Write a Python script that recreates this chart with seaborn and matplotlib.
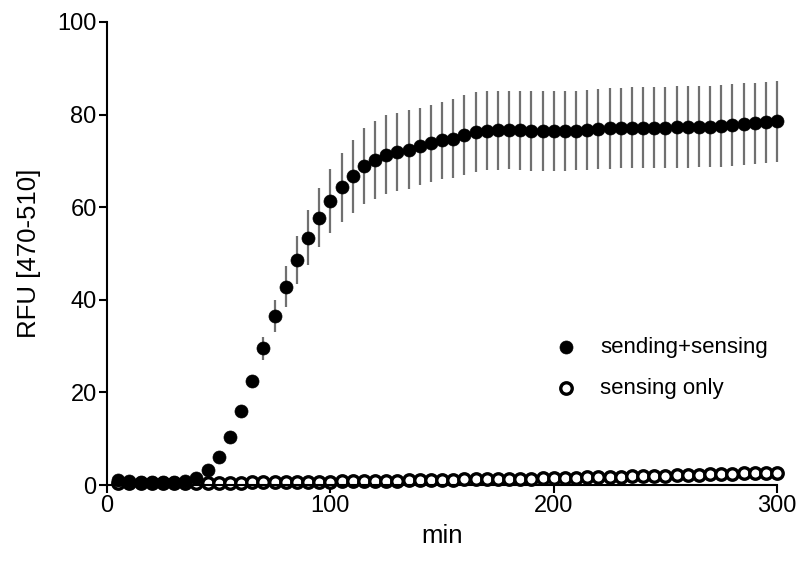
import numpy as np
import pandas as pd
import matplotlib
matplotlib.use("Agg")
import matplotlib.pyplot as plt
import seaborn as sns

# ---- data ----
time_min = list(range(5, 301, 5))

sending_sensing = [
    1.0, 0.9, 0.7, 0.6, 0.6, 0.6, 0.8, 1.6, 3.2, 6.0,
    10.3, 15.9, 22.4, 29.5, 36.5, 42.8, 48.5, 53.4, 57.7, 61.3,
    64.3, 66.7, 68.8, 70.2, 71.3, 71.9, 72.4, 73.1, 73.8, 74.4,
    74.8, 75.6, 76.2, 76.5, 76.6, 76.6, 76.6, 76.5, 76.5, 76.5,
    76.5, 76.5, 76.7, 76.9, 77.0, 77.1, 77.2, 77.2, 77.2, 77.2,
    77.3, 77.3, 77.4, 77.4, 77.5, 77.7, 77.9, 78.1, 78.3, 78.5,
]
sending_sensing_sd = [
    0.2, 0.2, 0.2, 0.2, 0.2, 0.2, 0.2, 0.3, 0.4, 0.5,
    0.7, 1.0, 1.4, 2.4, 3.5, 4.4, 5.2, 5.9, 6.4, 6.9,
    7.5, 7.9, 8.2, 8.5, 8.5, 8.5, 8.5, 8.3, 8.35, 8.3,
    8.5, 8.6, 8.6, 8.5, 8.5, 8.4, 8.5, 8.6, 8.6, 8.6,
    8.6, 8.5, 8.6, 8.7, 8.7, 8.7, 8.75, 8.8, 8.8, 8.8,
    8.8, 8.8, 8.8, 8.8, 8.85, 8.9, 8.9, 8.8, 8.8, 8.7,
]
sensing_only = [
    0.5, 0.5, 0.5, 0.5, 0.5, 0.5, 0.5, 0.5, 0.5, 0.5,
    0.5, 0.5, 0.6, 0.6, 0.6, 0.6, 0.7, 0.7, 0.7, 0.7,
    0.8, 0.8, 0.8, 0.9, 0.9, 0.9, 1.0, 1.0, 1.0, 1.1,
    1.1, 1.2, 1.2, 1.2, 1.3, 1.3, 1.4, 1.4, 1.5, 1.5,
    1.6, 1.6, 1.7, 1.7, 1.8, 1.8, 1.9, 1.9, 2.0, 2.0,
    2.1, 2.1, 2.2, 2.3, 2.3, 2.4, 2.5, 2.5, 2.6, 2.7,
]
series_labels = ["sending+sensing", "sensing only"]
x_ticks = [0, 100, 200, 300]
y_ticks = [0, 20, 40, 60, 80, 100]

df_a = pd.DataFrame({"min": time_min, "RFU": sending_sensing, "sd": sending_sensing_sd})
df_b = pd.DataFrame({"min": time_min, "RFU": sensing_only})

# ---- style ----
sns.set_theme(style="ticks")
plt.rcParams["font.family"] = ["Liberation Sans", "DejaVu Sans"]
plt.rcParams["text.color"] = "black"

fig = plt.figure(figsize=(7.99, 5.62), dpi=100)
ax = fig.add_axes([0.134, 0.137, 0.8385, 0.824])

# error bars (no caps, grey)
ax.errorbar(df_a["min"], df_a["RFU"], yerr=df_a["sd"], fmt="none",
            ecolor="#707070", elinewidth=1.6, capsize=0, zorder=1, clip_on=False)

sns.scatterplot(data=df_b, x="min", y="RFU", ax=ax, marker="o", s=68,
                facecolor="white", edgecolor="black", linewidth=2.4,
                label=series_labels[1], zorder=2, clip_on=False)
sns.scatterplot(data=df_a, x="min", y="RFU", ax=ax, marker="o", s=88,
                color="black", edgecolor="black", linewidth=0.5,
                label=series_labels[0], zorder=3, clip_on=False)

ax.set_xlim(0, 300)
ax.set_ylim(0, 100)
ax.set_xticks(x_ticks)
ax.set_yticks(y_ticks)
ax.set_xlabel("min", fontsize=18.5, color="black", labelpad=5)
ax.set_ylabel("RFU [470-510]", fontsize=18.5, color="black", labelpad=12)
ax.tick_params(axis="both", labelsize=17, colors="black", length=6, width=1.5, pad=1.5)

for side in ["top", "right"]:
    ax.spines[side].set_visible(False)
for side in ["left", "bottom"]:
    ax.spines[side].set_linewidth(1.5)
    ax.spines[side].set_color("black")

handles, labels = ax.get_legend_handles_labels()
order = [labels.index(series_labels[0]), labels.index(series_labels[1])]
leg = ax.legend([handles[i] for i in order], [labels[i] for i in order],
                frameon=False, loc="center left", bbox_to_anchor=(0.639, 0.253),
                fontsize=16, handletextpad=0.53, labelspacing=0.88, markerscale=1.0,
                borderaxespad=0)
for t in leg.get_texts():
    t.set_color("black")

fig.savefig("out.png", dpi=100)
